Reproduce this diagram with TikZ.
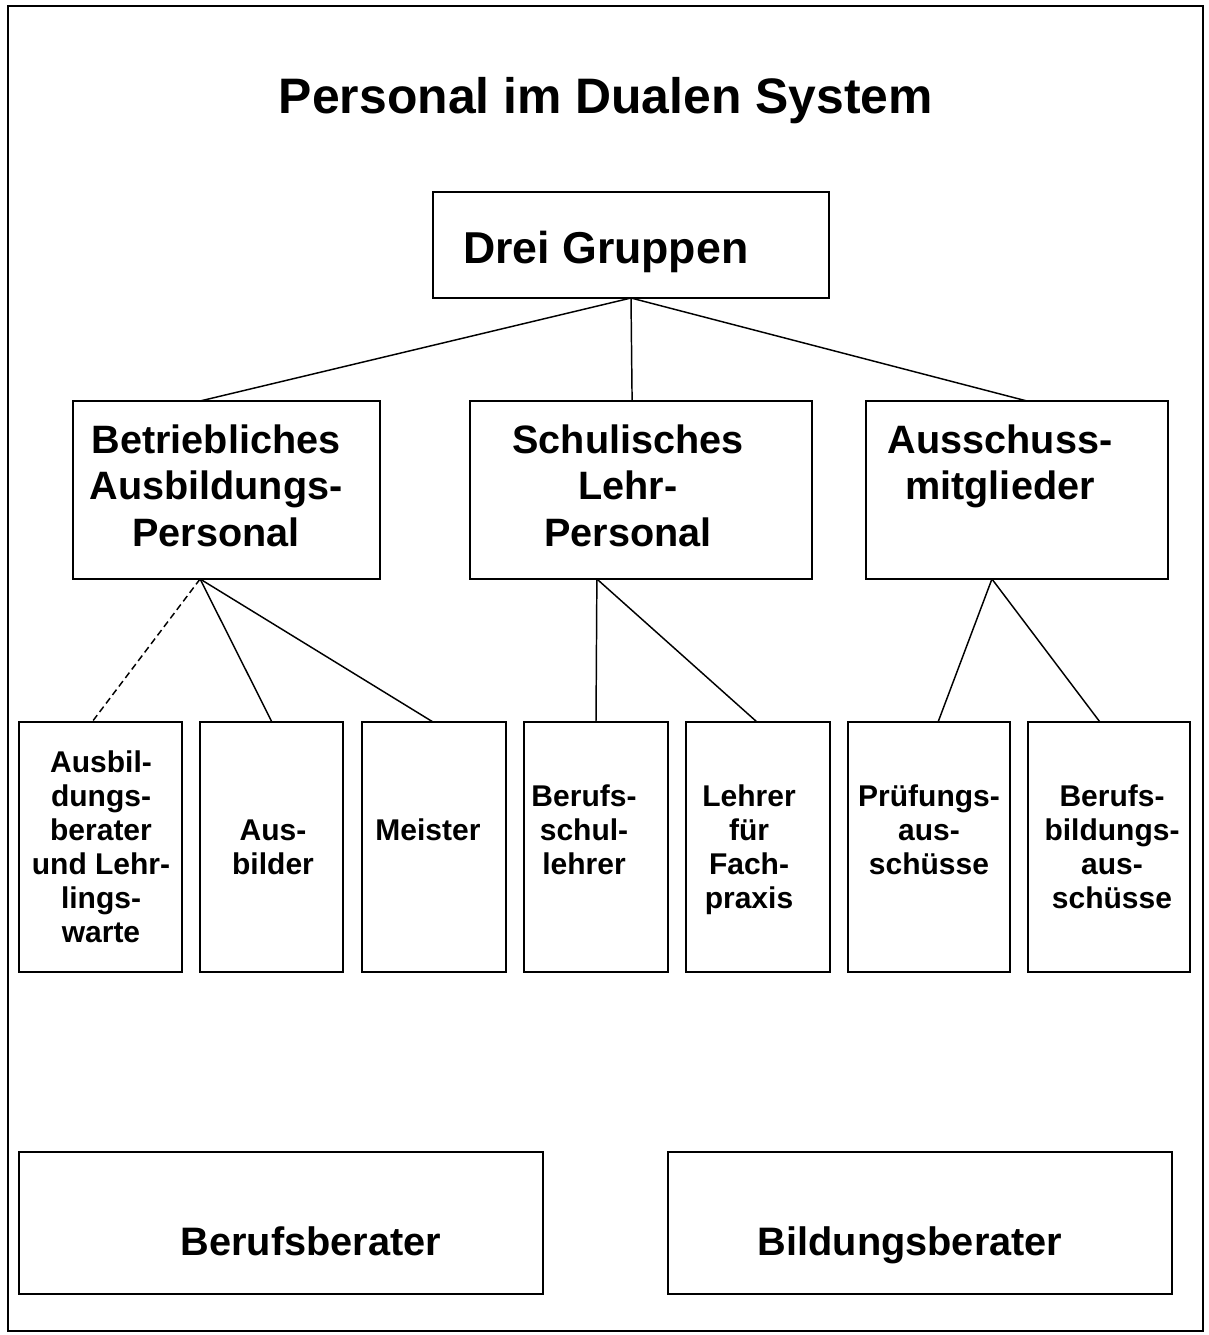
\documentclass[tikz,border=0pt]{standalone}
\usepackage{fontspec}
\setmainfont{Liberation Sans}
\usetikzlibrary{fit,calc}
% centred lines whose baseline is that of the first line
\newcommand\zeilen[1]{\begin{tabular}[t]{@{}c@{}}#1\end{tabular}}

\begin{document}
\begin{tikzpicture}[x=0.75pt,y=-0.75pt,
  box/.style={draw, line width=1.5pt, inner sep=0pt, outer sep=0pt, rectangle},
  link/.style={line width=1.1pt},
  hint/.style={link, dash pattern=on 5pt off 3pt},
  txt/.style={inner sep=0pt, outer sep=0pt, anchor=base},
  titlefont/.style={font=\bfseries\fontsize{37.4}{45}\selectfont},
  headfont/.style={font=\bfseries\fontsize{33.5}{40}\selectfont},
  groupfont/.style={font=\bfseries\fontsize{29.7}{34.9}\selectfont},
  smallfont/.style={font=\bfseries\fontsize{22.5}{25.5}\selectfont},
  footfont/.style={font=\bfseries\fontsize{29.8}{35}\selectfont}]

\useasboundingbox (0,0) rectangle (1209,1335);
\draw[line width=2.2pt] (8,6) rectangle (1203,1331);

% title
\node[txt, titlefont] (titel) at (606,113) {Personal im Dualen System};

% top box
\node[box, fit={(433,192) (829,298)}] (gruppen) {};
\node[txt, anchor=base west, headfont] (gruppentext) at (463,263) {Drei Gruppen};

% the three groups
\node[box, fit={(73,401) (380,579)}] (bap) {};
\node[box, fit={(470,401) (812,579)}] (slp) {};
\node[box, fit={(866,401) (1168,579)}] (ausm) {};
\node[txt, groupfont] (baptext) at (216,453) {\zeilen{Betriebliches\\Ausbildungs-\\Personal}};
\node[txt, groupfont] (slptext) at (628,453) {\zeilen{Schulisches\\Lehr-\\Personal}};
\node[txt, groupfont] (ausmtext) at (1000,453) {\zeilen{Ausschuss-\\mitglieder}};

% the seven members
\node[box, fit={(19,722) (182,972)}] (k1) {};
\node[box, fit={(200,722) (343,972)}] (k2) {};
\node[box, fit={(362,722) (506,972)}] (k3) {};
\node[box, fit={(524,722) (668,972)}] (k4) {};
\node[box, fit={(686,722) (830,972)}] (k5) {};
\node[box, fit={(848,722) (1010,972)}] (k6) {};
\node[box, fit={(1028,722) (1190,972)}] (k7) {};
\node[txt, smallfont] (k1text) at (101,772) {\zeilen{Ausbil-\\dungs-\\berater\\und Lehr-\\lings-\\warte}};
\node[txt, smallfont] (k2text) at (273,840) {\zeilen{Aus-\\bilder}};
\node[txt, smallfont] (k3text) at (428,840) {Meister};
\node[txt, smallfont] (k4text) at (584,806) {\zeilen{Berufs-\\schul-\\lehrer}};
\node[txt, smallfont] (k5text) at (749,806) {\zeilen{Lehrer\\für\\Fach-\\praxis}};
\node[txt, smallfont] (k6text) at (929,806) {\zeilen{Prüfungs-\\aus-\\schüsse}};
\node[txt, smallfont] (k7text) at (1112,806) {\zeilen{Berufs-\\bildungs-\\aus-\\schüsse}};

% advisers
\node[box, fit={(19,1152) (543,1294)}] (bb) {};
\node[box, fit={(668,1152) (1172,1294)}] (bi) {};
\node[txt, footfont] (bbtext) at (311,1255) {Berufsberater};
\node[txt, footfont] (bitext) at (910,1255) {Bildungsberater};

% connectors
\draw[link] (gruppen.south) -- ($(bap.north west)!0.414!(bap.north east)$);
\draw[link] (gruppen.south) -- ($(slp.north west)!0.474!(slp.north east)$);
\draw[link] (gruppen.south) -- ($(ausm.north west)!0.533!(ausm.north east)$);

\draw[hint] ($(bap.south west)!0.414!(bap.south east)$) -- ($(k1.north west)!0.448!(k1.north east)$);
\draw[link] ($(bap.south west)!0.414!(bap.south east)$) -- ($(k2.north west)!0.503!(k2.north east)$);
\draw[link] ($(bap.south west)!0.414!(bap.south east)$) -- ($(k3.north west)!0.493!(k3.north east)$);

\draw[link] ($(slp.south west)!0.371!(slp.south east)$) -- ($(k4.north west)!0.5!(k4.north east)$);
\draw[link] ($(slp.south west)!0.371!(slp.south east)$) -- ($(k5.north west)!0.493!(k5.north east)$);

\draw[link] ($(ausm.south west)!0.417!(ausm.south east)$) -- ($(k6.north west)!0.556!(k6.north east)$);
\draw[link] ($(ausm.south west)!0.417!(ausm.south east)$) -- ($(k7.north west)!0.444!(k7.north east)$);
\end{tikzpicture}
\end{document}
